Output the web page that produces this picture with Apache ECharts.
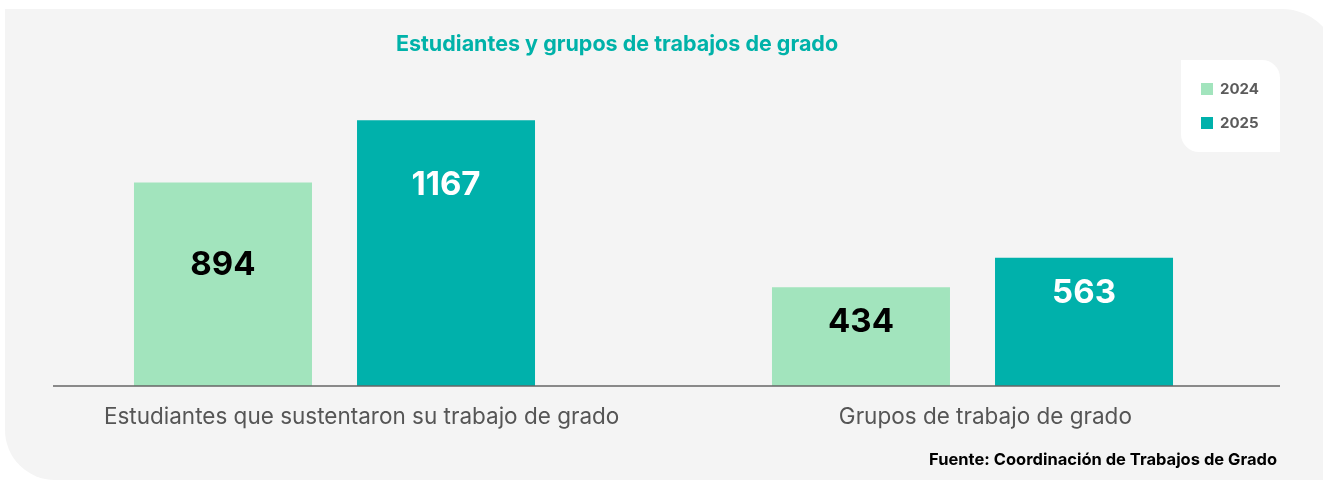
<!DOCTYPE html>
<html>
<head>
<meta charset="utf-8">
<script src="https://cdn.jsdelivr.net/npm/echarts@6/dist/echarts.min.js"></script>
<style>
html,body{margin:0;padding:0;background:#ffffff;}
#chart{width:1323px;height:481px;}
</style>
</head>
<body>
<div id="chart"></div>
<script>
// ---- Data ----
const categories = ['Estudiantes que sustentaron su trabajo de grado', 'Grupos de trabajo de grado'];
const seriesNames = ['2024', '2025'];
const values2024 = [894, 434];
const values2025 = [1167, 563];
const titleText = 'Estudiantes y grupos de trabajos de grado';
const sourceText = 'Fuente: Coordinación de Trabajos de Grado';

// ---- Styles ----
const FONT = 'Inter, "Noto Sans", sans-serif';
const C2024 = '#a2e4bd';
const C2025 = '#00b1ab';
// label vertical offsets (px from the bar top), per bar
const labelDy2024 = [83, 35];
const labelDy2025 = [65, 35];

function makeData(vals, dys) {
  return vals.map((v, i) => ({
    value: v,
    label: { position: ['50%', dys[i]] }
  }));
}

const chart = echarts.init(document.getElementById('chart'), null, { renderer: 'canvas' });

const option = {
  backgroundColor: '#ffffff',
  animation: false,
  textStyle: { fontFamily: FONT },
  title: [{
    text: titleText,
    left: 617,
    top: 34,
    padding: 0,
    textAlign: 'center',
    textStyle: { fontFamily: FONT, fontSize: 21.5, fontWeight: 'bold', color: '#00b2a9' }
  }, {
    text: sourceText,
    right: 46,
    top: 452,
    padding: 0,
    textStyle: { fontFamily: FONT, fontSize: 16.5, fontWeight: 'bold', color: '#000000' }
  }],
  legend: {
    orient: 'vertical',
    left: 1201,
    top: 81,
    padding: 0,
    itemWidth: 12,
    itemHeight: 12,
    itemGap: 18,
    icon: 'rect',
    data: seriesNames,
    textStyle: { fontFamily: FONT, fontSize: 15, fontWeight: 'bold', color: '#5b5b5b', lineHeight: 16, padding: [0, 0, 0, 2] }
  },
  grid: [
    { left: 15.5, right: 31.5, top: 90, bottom: 95, containLabel: false },
    { left: 49.75, right: 25.75, top: 90, bottom: 95, containLabel: false }
  ],
  xAxis: [{
    type: 'category',
    gridIndex: 0,
    data: categories,
    axisLine: { show: false },
    axisTick: { show: false },
    axisLabel: { show: false }
  }, {
    type: 'category',
    gridIndex: 1,
    data: categories,
    axisLine: { show: false },
    axisTick: { show: false },
    axisLabel: { show: true, interval: 0, hideOverlap: false, margin: 20, fontFamily: FONT, fontSize: 22.5, color: '#555555' }
  }],
  yAxis: [{
    type: 'value',
    gridIndex: 0,
    min: 0,
    max: 1300,
    show: false
  }, {
    type: 'value',
    gridIndex: 1,
    min: 0,
    max: 1300,
    show: false
  }],
  series: [{
    name: seriesNames[0],
    type: 'bar',
    xAxisIndex: 0,
    yAxisIndex: 0,
    barWidth: 178,
    barGap: '25.3%',
    itemStyle: { color: C2024 },
    label: {
      show: true,
      align: 'center',
      verticalAlign: 'middle',
      fontFamily: FONT,
      fontSize: 33,
      fontWeight: 'bold',
      color: '#000000'
    },
    data: makeData(values2024, labelDy2024)
  }, {
    name: seriesNames[1],
    type: 'bar',
    xAxisIndex: 0,
    yAxisIndex: 0,
    barWidth: 178,
    barGap: '25.3%',
    itemStyle: { color: C2025 },
    label: {
      show: true,
      align: 'center',
      verticalAlign: 'middle',
      fontFamily: FONT,
      fontSize: 33,
      fontWeight: 'bold',
      color: '#ffffff'
    },
    data: makeData(values2025, labelDy2025)
  }],
  graphic: [{
    type: 'rect',
    z: -10,
    silent: true,
    shape: { x: 5, y: 9, width: 1333, height: 471, r: [0, 56, 0, 50] },
    style: { fill: '#f4f4f4' }
  }, {
    type: 'rect',
    z: -5,
    silent: true,
    shape: { x: 1181, y: 60, width: 99, height: 92, r: [0, 18, 0, 18] },
    style: { fill: '#ffffff' }
  }, {
    type: 'line',
    z: 100,
    silent: true,
    shape: { x1: 53, y1: 386, x2: 1280, y2: 386 },
    style: { stroke: '#666666', lineWidth: 1.5 }
  }]
};

chart.setOption(option);
</script>
</body>
</html>
